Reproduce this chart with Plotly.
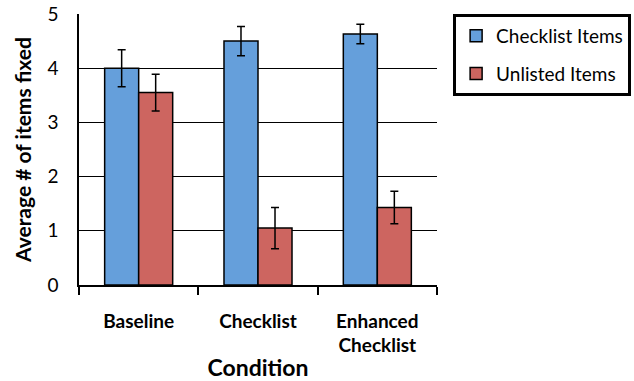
import plotly.graph_objects as go

categories = ["Baseline", "Checklist", "Enhanced<br>Checklist"]
checklist_vals = [4.0, 4.5, 4.63]
checklist_err = [0.34, 0.27, 0.18]
unlisted_vals = [3.55, 1.05, 1.43]
unlisted_err = [0.34, 0.38, 0.30]
y_ticks = [0, 1, 2, 3, 4, 5]

FONT = "Lato"

fig = go.Figure()
fig.add_trace(go.Bar(
    x=categories, y=checklist_vals, name="Checklist Items", legendgroup="a",
    marker=dict(color="#659FDB", line=dict(color="black", width=1.5)),
    error_y=dict(type="data", array=checklist_err, color="black", thickness=1.5, width=4),
))
fig.add_trace(go.Bar(
    x=categories, y=unlisted_vals, name="Unlisted Items", legendgroup="b",
    marker=dict(color="#CD6560", line=dict(color="black", width=1.5)),
    error_y=dict(type="data", array=unlisted_err, color="black", thickness=1.5, width=4),
))

fig.update_layout(
    width=634, height=381,
    margin=dict(l=79, r=197, t=14, b=96, autoexpand=False),
    plot_bgcolor="white", paper_bgcolor="white",
    barmode="group", bargap=0.43, bargroupgap=0,
    font=dict(family=FONT, color="black"),
    legend=dict(
        x=1.045, y=1.0, xanchor="left", yanchor="top",
        bordercolor="black", borderwidth=3,
        font=dict(size=19, family=FONT),
        tracegroupgap=10, itemwidth=30,
    ),
    showlegend=True,
)
fig.update_xaxes(
    automargin=False,
    showline=True, linecolor="black", linewidth=1.5,
    ticks="outside", tickson="boundaries", ticklen=8, tickcolor="black", tickwidth=1.5,
    tickfont=dict(size=19, family=FONT, weight="bold"),
    ticklabelstandoff=18,
    title=dict(text="Condition", font=dict(size=23, family=FONT, weight="bold"), standoff=5),
)
fig.update_yaxes(
    automargin=False,
    range=[0, 5], tickvals=y_ticks,
    showline=True, linecolor="black", linewidth=1.5,
    showgrid=True, gridcolor="black", gridwidth=1.2,
    zeroline=False,
    tickfont=dict(size=19, family=FONT),
    ticklabelstandoff=15,
    title=dict(text="Average # of items fixed", font=dict(size=21, family=FONT, weight="bold"), standoff=10),
)

fig.write_html("out.html", config={"displayModeBar": False},
               post_script="document.body.style.margin='0';")
